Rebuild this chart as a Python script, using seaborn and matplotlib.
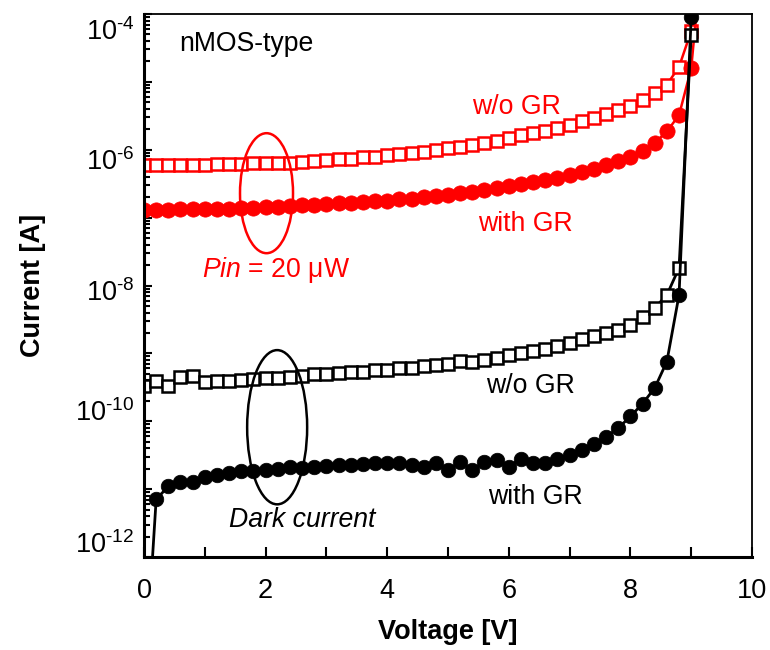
import numpy as np
import pandas as pd
import matplotlib
matplotlib.use("Agg")
import matplotlib.pyplot as plt
import seaborn as sns
from matplotlib.patches import Ellipse
from matplotlib.ticker import FixedLocator, FixedFormatter, LogLocator, NullFormatter
from matplotlib.transforms import ScaledTranslation

# Bias sweep [V]
voltage = [0.0, 0.2, 0.4, 0.6, 0.8, 1.0, 1.2, 1.4, 1.6, 1.8,
           2.0, 2.2, 2.4, 2.6, 2.8, 3.0, 3.2, 3.4, 3.6, 3.8,
           4.0, 4.2, 4.4, 4.6, 4.8, 5.0, 5.2, 5.4, 5.6, 5.8,
           6.0, 6.2, 6.4, 6.6, 6.8, 7.0, 7.2, 7.4, 7.6, 7.8,
           8.0, 8.2, 8.4, 8.6, 8.8, 9.0, 9.2]

# log10 of current [A], illuminated (Pin = 20 uW), without guard ring
log_photo_wo_gr = [-6.23, -6.23, -6.22, -6.22, -6.22, -6.22, -6.21, -6.21, -6.21, -6.20,
                   -6.20, -6.19, -6.19, -6.18, -6.17, -6.15, -6.14, -6.13, -6.11, -6.10,
                   -6.08, -6.06, -6.05, -6.03, -6.00, -5.98, -5.96, -5.93, -5.90, -5.87,
                   -5.83, -5.79, -5.76, -5.72, -5.68, -5.63, -5.58, -5.53, -5.48, -5.42,
                   -5.35, -5.27, -5.17, -5.04, -4.78, -4.25, -2.90]

# log10 of current [A], illuminated (Pin = 20 uW), with guard ring
log_photo_with_gr = [-6.89, -6.89, -6.89, -6.88, -6.88, -6.88, -6.87, -6.87, -6.86, -6.86,
                     -6.85, -6.84, -6.83, -6.82, -6.81, -6.80, -6.79, -6.78, -6.77, -6.76,
                     -6.75, -6.73, -6.72, -6.70, -6.68, -6.66, -6.64, -6.62, -6.59, -6.56,
                     -6.53, -6.50, -6.47, -6.44, -6.41, -6.37, -6.33, -6.28, -6.23, -6.17,
                     -6.10, -6.02, -5.90, -5.73, -5.49, -4.80, -2.90]

# log10 of dark current [A], without guard ring
log_dark_wo_gr = [-9.48, -9.40, -9.48, -9.35, -9.34, -9.42, -9.41, -9.40, -9.39, -9.38,
                  -9.37, -9.36, -9.35, -9.33, -9.31, -9.30, -9.29, -9.28, -9.27, -9.25,
                  -9.24, -9.22, -9.21, -9.19, -9.17, -9.15, -9.11, -9.12, -9.10, -9.07,
                  -9.03, -9.00, -8.97, -8.93, -8.89, -8.84, -8.79, -8.75, -8.70, -8.65,
                  -8.58, -8.47, -8.33, -8.14, -7.74, -4.31]

# log10 of dark current [A], with guard ring
log_dark_with_gr = [-14.0, -11.15, -10.96, -10.89, -10.90, -10.82, -10.79, -10.76, -10.74, -10.74,
                    -10.72, -10.70, -10.68, -10.69, -10.67, -10.66, -10.65, -10.64, -10.63, -10.62,
                    -10.62, -10.62, -10.645, -10.67, -10.62, -10.72, -10.60, -10.72, -10.60, -10.57,
                    -10.67, -10.55, -10.62, -10.62, -10.55, -10.50, -10.42, -10.33, -10.23, -10.10,
                    -9.93, -9.74, -9.51, -9.12, -8.14, -4.05]

x_ticks = [0, 2, 4, 6, 8, 10]
x_minor_ticks = [1, 3, 5, 7, 9]
y_decades = [-12, -11, -10, -9, -8, -7, -6, -5, -4]
y_tick_labels = ["$10^{\u201012}$", "", "$10^{\u201010}$", "", "$10^{\u20108}$", "",
                 "$10^{\u20106}$", "", "$10^{\u20104}$"]

RED = "#ff0000"
BLACK = "#000000"

sns.set_style("ticks")
plt.rcParams["font.family"] = ["Liberation Sans", "DejaVu Sans"]
plt.rcParams["mathtext.fontset"] = "custom"
plt.rcParams["mathtext.rm"] = "Liberation Sans"
plt.rcParams["mathtext.it"] = "Liberation Sans:italic"
plt.rcParams["mathtext.bf"] = "Liberation Sans:bold"
plt.rcParams["mathtext.default"] = "regular"
for key in ["text.color", "axes.labelcolor", "xtick.color", "ytick.color", "axes.edgecolor"]:
    plt.rcParams[key] = "black"

fig = plt.figure(figsize=(7.7, 6.5), dpi=100)
ax = fig.add_axes([144 / 770, 93 / 650, 608 / 770, 543 / 650])


def series(log_values):
    n = len(log_values)
    return pd.DataFrame({"V": voltage[:n], "I": 10.0 ** np.array(log_values)})


curves = [
    (log_photo_wo_gr, RED, "s", 8.6, "white", 1.8, 1.8),
    (log_photo_with_gr, RED, "o", 11.0, RED, 0.5, 1.8),
    (log_dark_wo_gr, BLACK, "s", 8.6, "white", 1.8, 2.0),
    (log_dark_with_gr, BLACK, "o", 10.5, BLACK, 0.5, 2.0),
]
for vals, col, mk, ms, mfc, mew, lw in curves:
    sns.lineplot(data=series(vals), x="V", y="I", ax=ax, color=col,
                 marker=mk, markersize=ms, markerfacecolor=mfc,
                 markeredgecolor=col, markeredgewidth=mew, linewidth=lw,
                 estimator=None, sort=False, legend=False)

ax.set_yscale("log")
ax.set_xlim(0, 10)
ax.set_ylim(1e-12, 1e-4)

ax.xaxis.set_major_locator(FixedLocator(x_ticks))
ax.xaxis.set_minor_locator(FixedLocator(x_minor_ticks))
ax.set_xticklabels([str(t) for t in x_ticks])

ax.yaxis.set_major_locator(FixedLocator([10.0 ** d for d in y_decades]))
ax.yaxis.set_major_formatter(FixedFormatter(y_tick_labels))
ax.yaxis.set_minor_locator(LogLocator(base=10, subs=np.arange(2, 10), numticks=100))
ax.yaxis.set_minor_formatter(NullFormatter())

ax.tick_params(axis="both", which="both", direction="in", colors="black",
               width=1.5, top=False, right=False)
ax.tick_params(axis="x", which="both", length=7, pad=15, labelsize=19.5)
ax.tick_params(axis="y", which="major", length=6, pad=7, labelsize=19.5)
ax.tick_params(axis="y", which="minor", length=4.5)

# hand-placed exponent labels sit a little off their decade ticks
label_shift_px = {-4: -15, -6: -9, -8: -5, -10: 11, -12: 15}
for d, tick in zip(y_decades, ax.yaxis.get_major_ticks()):
    if d in label_shift_px:
        tick.label1.set_transform(tick.label1.get_transform() +
                                  ScaledTranslation(0, label_shift_px[d] / 100, fig.dpi_scale_trans))

for side in ["left", "bottom"]:
    ax.spines[side].set_linewidth(2.2)
for side in ["top", "right"]:
    ax.spines[side].set_linewidth(1.3)
    ax.spines[side].set_visible(True)

ax.set_xlabel("Voltage [V]", fontsize=19.5, fontweight="bold", color=BLACK)
ax.set_ylabel("Current [A]", fontsize=19.5, fontweight="bold", color=BLACK)
ax.xaxis.set_label_coords(0.5, -0.114)
ax.yaxis.set_label_coords(-0.162, 0.5)

# annotations
FS = 19.2
ax.text(1.68, 10 ** -4.44, "nMOS-type", fontsize=FS, ha="center", va="center", color=BLACK)
ax.text(6.13, 10 ** -5.37, "w/o GR", fontsize=FS, ha="center", va="center", color=RED)
ax.text(6.27, 10 ** -7.1, "with GR", fontsize=FS, ha="center", va="center", color=RED)
ax.text(2.17, 10 ** -7.77, r"$\mathit{Pin}$ = 20 μW", fontsize=FS, ha="center", va="center", color=RED)
ax.text(6.35, 10 ** -9.48, "w/o GR", fontsize=FS, ha="center", va="center", color=BLACK)
ax.text(6.43, 10 ** -11.12, "with GR", fontsize=FS, ha="center", va="center", color=BLACK)
ax.text(2.6, 10 ** -11.45, "Dark current", fontsize=FS, style="italic", ha="center", va="center", color=BLACK)

ax.add_patch(Ellipse((0.2015, 0.670), 0.0872, 0.221, transform=ax.transAxes,
                     fill=False, edgecolor=RED, linewidth=1.8, zorder=5))
ax.add_patch(Ellipse((0.219, 0.239), 0.0987, 0.284, transform=ax.transAxes,
                     fill=False, edgecolor=BLACK, linewidth=1.8, zorder=5))

fig.savefig("out.png", dpi=100, facecolor="white")
